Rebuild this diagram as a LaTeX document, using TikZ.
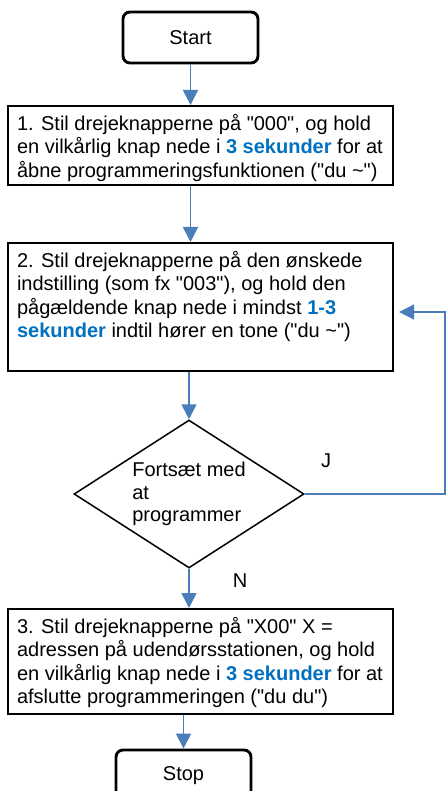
\documentclass[tikz,border=0pt]{standalone}
\usepackage{fontspec}
\setmainfont{Liberation Sans}[Ligatures=TeXOff]
\usetikzlibrary{shapes.geometric,arrows.meta}
\definecolor{arrblue}{RGB}{74,126,187}
\definecolor{txtblue}{RGB}{0,112,192}
\newcommand{\bl}[1]{\textbf{\color{txtblue}#1}}
\newcommand{\boxtxt}[2]{\parbox[c][#1][t]{367pt}{\raggedright\rule{0pt}{24pt}#2}}
\tikzset{
  stepbox/.style={draw, line width=2.1pt, inner xsep=9pt, inner ysep=0pt, anchor=north west,
    font=\fontsize{20}{23.5}\selectfont},
  term/.style={draw, line width=2.9pt, rounded corners=7pt, minimum width=135pt, minimum height=51pt,
    inner sep=0pt, font=\fontsize{20}{24}\selectfont},
  dec/.style={diamond, draw, line width=1.5pt, aspect=1.554, minimum width=230pt, minimum height=148pt,
    inner sep=0pt, align=left, font=\fontsize{20}{22.5}\selectfont},
  arr/.style={draw=arrblue, line width=1.6pt, -{Triangle[length=15pt,width=15pt]}},
  lbl/.style={inner sep=0pt, font=\fontsize{20}{24}\selectfont}
}
\begin{document}
\begin{tikzpicture}[x=1pt,y=-1pt]
\useasboundingbox (0,0) rectangle (446,791);
\clip (0,0) rectangle (446,791);
\node[term] (start) at (190.5,37.5) {Start};
\node[stepbox] (b1) at (7,105) {\boxtxt{79pt}{1. Stil drejeknapperne på "000", og hold\\
en vilkårlig knap nede i \bl{3 sekunder} for at\\
åbne programmeringsfunktionen ("du \textasciitilde")}};
\node[stepbox] (b2) at (7,242) {\boxtxt{128pt}{2. Stil drejeknapperne på den ønskede\\
indstilling (som fx "003"), og hold den\\
pågældende knap nede i mindst \bl{1-3}\\
\bl{sekunder} indtil hører en tone ("du \textasciitilde")}};
\node[dec] (d) at (189,494) {Fortsæt med\\at\\programmer};
\node[stepbox] (b3) at (7,608) {\boxtxt{105pt}{3. Stil drejeknapperne på "X00" X =\\
adressen på udendørsstationen, og hold\\
en vilkårlig knap nede i \bl{3 sekunder} for at\\
afslutte programmeringen ("du du")}};
\node[term] (stop) at (183.5,775.5) {Stop};
\coordinate (loop) at (445,312);
\node[lbl] (jl) at (326,461) {J};
\node[lbl] (nl) at (240,581) {N};
\draw[arr] (start) -- (start |- b1.north);
\draw[arr] (start |- b1.south) -- (start |- b2.north);
\draw[arr] (d.north |- b2.south) -- (d.north);
\draw[arr] (d.south) -- (d.south |- b3.north);
\draw[arr] (stop.north |- b3.south) -- (stop.north);
\draw[arr, shorten >=5pt] (d.east) -- (d.east -| loop) -- (loop) -- (loop -| b2.east);
\end{tikzpicture}
\end{document}
